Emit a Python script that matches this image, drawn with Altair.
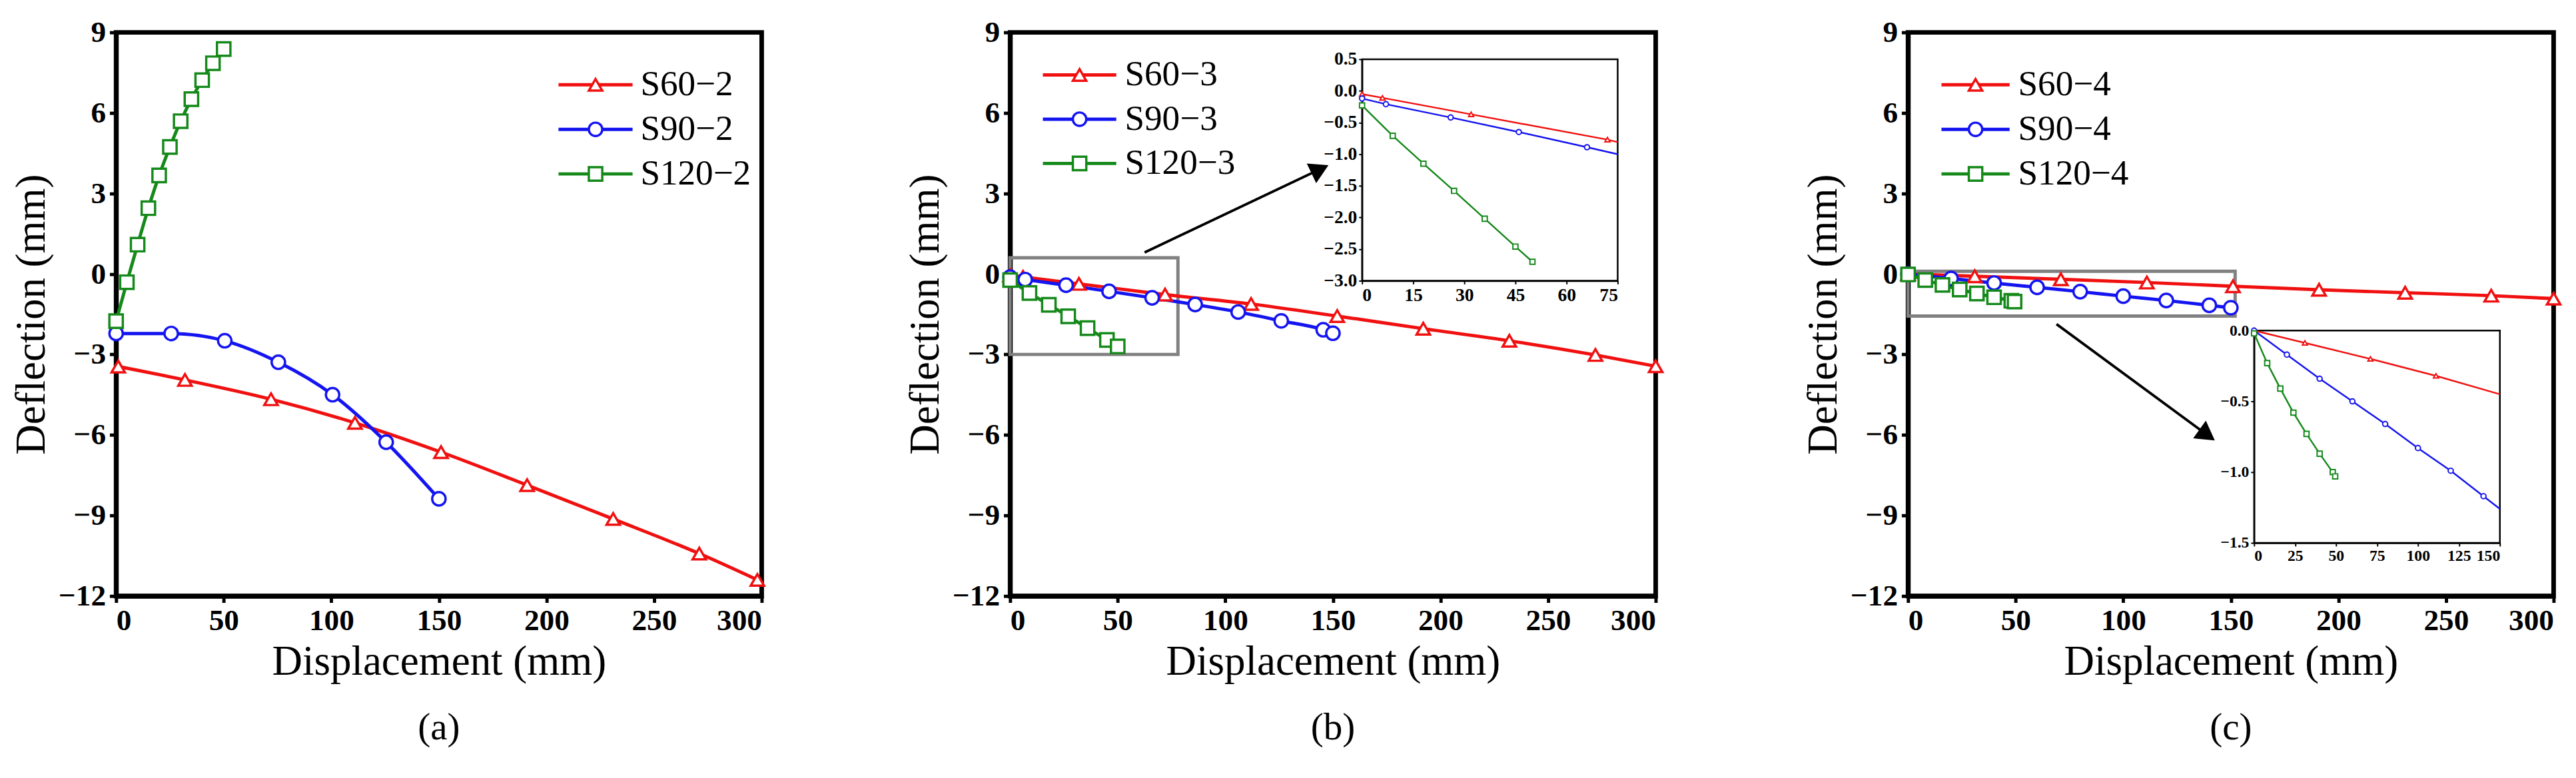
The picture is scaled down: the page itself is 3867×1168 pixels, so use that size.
import altair as alt
import pandas as pd

FONT = "Liberation Serif"
RED, BLUE, GREEN = "#f01010", "#1414f0", "#15891a"

# ---------------- data ----------------
# panel (a)
a_s60_x = [1, 32, 72, 111, 151, 191, 231, 271, 298]
a_s60_y = [-3.45, -3.95, -4.67, -5.55, -6.64, -7.87, -9.13, -10.42, -11.4]
a_s90_x = [0, 25.6, 50.5, 75.4, 100.6, 125.5, 150]
a_s90_y = [-2.22, -2.22, -2.49, -3.29, -4.5, -6.27, -8.38]
a_s120_x = [0, 5, 10, 15, 20, 25, 30, 35, 40, 45, 50]
a_s120_y = [-1.76, -0.31, 1.09, 2.45, 3.67, 4.73, 5.69, 6.51, 7.22, 7.85, 8.38]

# panel (b)
b_s60_x = [0, 6, 32, 72, 112, 152, 192, 232, 272, 300]
b_s60_y = [-0.05, -0.11, -0.37, -0.77, -1.12, -1.57, -2.04, -2.49, -3.02, -3.44]
b_s90_x = [0, 7, 26, 46, 66, 86, 106, 126, 145.5, 150]
b_s90_y = [-0.12, -0.21, -0.42, -0.65, -0.89, -1.14, -1.42, -1.75, -2.08, -2.21]
b_s120_x = [0, 9, 18, 27, 36, 45, 50]
b_s120_y = [-0.23, -0.71, -1.15, -1.58, -2.02, -2.46, -2.7]
# inset (b)
bi_s60_x = [0, 6, 32, 72, 75]
bi_s60_y = [-0.05, -0.11, -0.37, -0.77, -0.81]
bi_s90_x = [0, 7, 26, 46, 66, 75]
bi_s90_y = [-0.12, -0.21, -0.42, -0.65, -0.89, -1.0]
bi_s120_x = b_s120_x
bi_s120_y = b_s120_y

# panel (c)
c_s60_x = [0, 31, 71, 111, 151, 191, 231, 271, 300]
c_s60_y = [0, -0.087, -0.2, -0.32, -0.46, -0.59, -0.7, -0.81, -0.92]
c_s90_x = [0, 20, 40, 60, 80, 100, 120, 140, 150]
c_s90_y = [0, -0.17, -0.34, -0.5, -0.66, -0.83, -0.99, -1.17, -1.26]
c_s120_x = [0, 8, 16, 24, 32, 40, 48, 49.5]
c_s120_y = [-0.02, -0.23, -0.41, -0.58, -0.73, -0.87, -1.0, -1.03]
# inset (c)
ci_s60_x = [0, 31, 71, 111, 150]
ci_s60_y = [0, -0.087, -0.2, -0.32, -0.45]
ci_s90_x = c_s90_x
ci_s90_y = c_s90_y
ci_s120_x = c_s120_x
ci_s120_y = c_s120_y

X_TICKS = [0, 50, 100, 150, 200, 250, 300]
Y_TICKS = [-12, -9, -6, -3, 0, 3, 6, 9]

W, H = 985, 860


def frame(names, xs_list, ys_list):
    rows = []
    for n, xs, ys in zip(names, xs_list, ys_list):
        for x, y in zip(xs, ys):
            rows.append({"s": n, "x": x, "y": y})
    return pd.DataFrame(rows)


def scales(names):
    cs = alt.Scale(domain=names, range=[RED, BLUE, GREEN])
    ss = alt.Scale(domain=names, range=["triangle-up", "circle", "square"])
    return cs, ss


def main_layer(names, df, box=None, arrow=None):
    cs, ss = scales(names)
    xax = alt.Axis(values=X_TICKS, title="Displacement (mm)", format="d")
    yax = alt.Axis(values=Y_TICKS, title="Deflection (mm)", format="d")
    X = lambda f: alt.X(f, type="quantitative", scale=alt.Scale(domain=[0, 300], nice=False), axis=xax)
    Y = lambda f: alt.Y(f, type="quantitative", scale=alt.Scale(domain=[-12, 9], nice=False), axis=yax)
    layers = []
    if box is not None:
        bdf = pd.DataFrame({"x": [box[0]], "x2": [box[1]], "y": [box[2]], "y2": [box[3]]})
        layers.append(alt.Chart(bdf).mark_rect(fill=None, stroke="#808080", strokeWidth=5).encode(
            x=X("x"), x2="x2", y=Y("y"), y2="y2"))
    lines = alt.Chart(df).mark_line(interpolate="monotone", strokeWidth=5).encode(
        x=X("x"), y=Y("y"), color=alt.Color("s:N", scale=cs, legend=None))
    pts = alt.Chart(df).mark_point(filled=False, fill="white", fillOpacity=1, size=420,
                                   strokeWidth=3.5, opacity=1).encode(
        x=X("x"), y=Y("y"), color=alt.Color("s:N", scale=cs, legend=None),
        shape=alt.Shape("s:N", scale=ss, legend=None))
    layers += [lines, pts]
    if arrow is not None:
        adf = pd.DataFrame({"x": [arrow[0]], "y": [arrow[1]], "x2": [arrow[2]], "y2": [arrow[3]]})
        layers.append(alt.Chart(adf).mark_rule(color="black", strokeWidth=4).encode(
            x=X("x"), y=Y("y"), x2="x2", y2="y2"))
        hdf = pd.DataFrame({"x": [arrow[2]], "y": [arrow[3]]})
        layers.append(alt.Chart(hdf).mark_point(shape="triangle-up", filled=True, color="black",
                                                size=1100, angle=arrow[4], opacity=1).encode(
            x=X("x"), y=Y("y")))
    return alt.layer(*layers)


def inset_layer(names, df, xdom, ydom, xvals, yvals, px0, px1, py0, py1, fs):
    cs, ss = scales(names)
    ax_common = dict(labelFontSize=fs, domainWidth=2.5, tickWidth=2, tickSize=5, labelPadding=3,
                     title=None, labelFontWeight="bold", labelOverlap=False)
    xax = alt.Axis(values=xvals, orient="bottom", offset=-(H - py1), format="d", **ax_common)
    yax = alt.Axis(values=yvals, orient="left", offset=-px0, format=".1f", **ax_common)
    X = alt.X("x:Q", scale=alt.Scale(domain=xdom, range=[px0, px1], nice=False), axis=xax)
    Y = alt.Y("y:Q", scale=alt.Scale(domain=ydom, range=[py1, py0], nice=False), axis=yax)
    lines = alt.Chart(df).mark_line(strokeWidth=2.5).encode(
        x=X, y=Y, color=alt.Color("s:N", scale=cs, legend=None))
    pts = alt.Chart(df).transform_filter("datum.x < %s" % xdom[1]).mark_point(
        filled=False, fill="white", fillOpacity=1, size=60, strokeWidth=2, opacity=1).encode(
        x=X, y=Y, color=alt.Color("s:N", scale=cs, legend=None),
        shape=alt.Shape("s:N", scale=ss, legend=None))
    box = alt.Chart(pd.DataFrame({"k": [0]})).mark_rect(fill=None, stroke="black", strokeWidth=2.5).encode(
        x=alt.value(px0), x2=alt.value(px1), y=alt.value(py0), y2=alt.value(py1))
    return alt.layer(box, lines, pts)


def legend_layer(names, r0, r1, tx, y0, y1):
    cs, ss = scales(names)
    ldf = pd.DataFrame({"s": names})
    Y = alt.Y("s:N", scale=alt.Scale(type="point", domain=names, range=[y0, y1], padding=0), axis=None)
    rule = alt.Chart(ldf).mark_rule(strokeWidth=5).encode(
        x=alt.value(r0), x2=alt.value(r1), y=Y, color=alt.Color("s:N", scale=cs, legend=None))
    pt = alt.Chart(ldf).mark_point(filled=False, fill="white", fillOpacity=1, size=420,
                                   strokeWidth=3.5, opacity=1).encode(
        x=alt.value((r0 + r1) / 2), y=Y, color=alt.Color("s:N", scale=cs, legend=None),
        shape=alt.Shape("s:N", scale=ss, legend=None))
    txt = alt.Chart(ldf).mark_text(align="left", baseline="middle", font=FONT, fontSize=54,
                                   color="black").encode(x=alt.value(tx), y=Y, text="s:N")
    return alt.layer(rule, pt, txt)


def finish(ch, letter):
    return ch.resolve_scale(x="independent", y="independent").properties(
        width=W, height=H,
        title=alt.TitleParams("(" + letter + ")", orient="bottom", font=FONT, fontSize=58,
                              fontWeight="normal", color="black", offset=40))


# panel a
na = ["S60\u22122", "S90\u22122", "S120\u22122"]
dfa = frame(na, [a_s60_x, a_s90_x, a_s120_x], [a_s60_y, a_s90_y, a_s120_y])
pa = finish(alt.layer(main_layer(na, dfa), legend_layer(na, 675, 788, 800, 80, 216)), "a")

# panel b
nb = ["S60\u22123", "S90\u22123", "S120\u22123"]
dfb = frame(nb, [b_s60_x, b_s90_x, b_s120_x], [b_s60_y, b_s90_y, b_s120_y])
dfbi = frame(nb, [bi_s60_x, bi_s90_x, bi_s120_x], [bi_s60_y, bi_s90_y, bi_s120_y])
pb = finish(alt.layer(
    main_layer(nb, dfb, box=[0, 78, 0.6, -3.0], arrow=[62.5, 0.8, 144, 3.9, 64.5]),
    inset_layer(nb, dfbi, [0, 75], [-3, 0.5], [0, 15, 30, 45, 60, 75],
                [-3, -2.5, -2, -1.5, -1, -0.5, 0, 0.5], 537, 927, 41, 379, 28),
    legend_layer(nb, 50, 162, 175, 65, 200)), "b")

# panel c
nc = ["S60\u22124", "S90\u22124", "S120\u22124"]
dfc = frame(nc, [c_s60_x, c_s90_x, c_s120_x], [c_s60_y, c_s90_y, c_s120_y])
dfci = frame(nc, [ci_s60_x, ci_s90_x, ci_s120_x], [ci_s60_y, ci_s90_y, ci_s120_y])
pc = finish(alt.layer(
    main_layer(nc, dfc, box=[0, 152, 0.1, -1.57], arrow=[69, -1.87, 139, -6.0, 125.7]),
    inset_layer(nc, dfci, [0, 150], [-1.5, 0], [0, 25, 50, 75, 100, 125, 150],
                [-1.5, -1.0, -0.5, 0.0], 528, 903, 455, 779, 24),
    legend_layer(nc, 51, 155, 168, 80, 216)), "c")

chart = alt.hconcat(pa, pb, pc, spacing=200).configure_view(
    stroke="black", strokeWidth=7).configure_axis(
    labelFont=FONT, titleFont=FONT, labelFontSize=46, labelFontWeight="bold",
    titleFontSize=64, titleFontWeight="normal", labelColor="black", titleColor="black",
    domainColor="black", domainWidth=7, tickColor="black", tickWidth=5, tickSize=10,
    grid=False, labelPadding=6, titlePadding=8)

chart.save("out.html", embed_options={"renderer": "svg", "actions": False})
